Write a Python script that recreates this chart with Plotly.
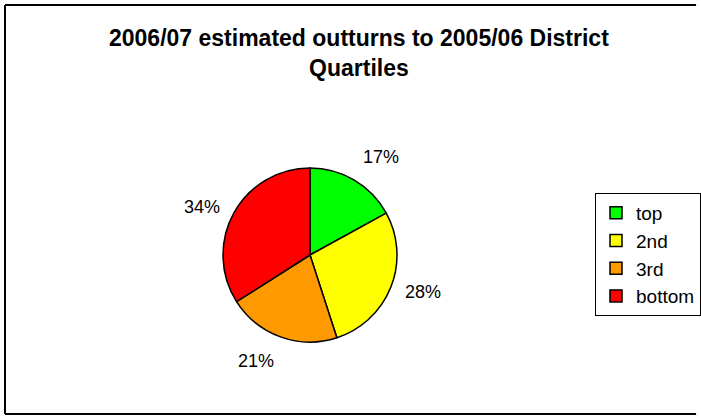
import math
import plotly.graph_objects as go

labels = ["top", "2nd", "3rd", "bottom"]
values = [17, 28, 21, 34]
colors = ["#00FF00", "#FFFF00", "#FF9900", "#FF0000"]
title_text = "2006/07 estimated outturns to 2005/06 District<br>Quartiles"

W, H = 701, 416
CX, CY, R = 310, 255, 87  # pie centre / radius in px
FONT = "Liberation Sans, Arial, sans-serif"

fig = go.Figure(go.Pie(
    labels=labels, values=values, sort=False, direction="clockwise", rotation=0,
    marker=dict(colors=colors, line=dict(color="black", width=1.5)),
    textinfo="none", hoverinfo="label+percent",
    domain=dict(x=[(CX - R) / W, (CX + R) / W], y=[1 - (CY + R) / H, 1 - (CY - R) / H]),
))

# outside percentage labels, placed along each slice's mid angle
total = sum(values)
cum = 0
anns = []
for v in values:
    mid = (cum + v / 2) / total * 2 * math.pi
    cum += v
    sx, sy = math.sin(mid), -math.cos(mid)
    rr = R + 13
    px, py = CX + sx * rr, CY + sy * rr
    xa = "left" if sx > 0.3 else ("right" if sx < -0.3 else "center")
    ya = "top" if sy > 0.5 else ("bottom" if sy < -0.5 else "middle")
    anns.append(dict(x=px / W, y=1 - py / H, xref="paper", yref="paper",
                     text=f"{round(v / total * 100)}%", showarrow=False,
                     xanchor=xa, yanchor=ya, font=dict(size=18, color="black", family=FONT)))

anns.append(dict(x=359 / W, y=1 - 23 / H, xref="paper", yref="paper", text=title_text,
                 showarrow=False, xanchor="center", yanchor="top",
                 font=dict(size=23, family=FONT, color="black", weight="bold")))

# chart frame: left, top and bottom edges (right edge falls outside the picture)
fx0, fx1, fy0, fy1 = 5 / W, 0.993, 1 - 5 / H, 1 - 414 / H
frame = [
    dict(type="line", xref="paper", yref="paper", x0=fx0, x1=fx0, y0=fy1, y1=fy0),
    dict(type="line", xref="paper", yref="paper", x0=fx0, x1=fx1, y0=fy0, y1=fy0),
    dict(type="line", xref="paper", yref="paper", x0=fx0, x1=fx1, y0=fy1, y1=fy1),
]
for s in frame:
    s["line"] = dict(color="black", width=2)

fig.update_layout(
    width=W, height=H, margin=dict(l=0, r=0, t=0, b=0, autoexpand=False),
    paper_bgcolor="white", plot_bgcolor="white",
    font=dict(family=FONT, color="black"),
    legend=dict(x=1.0, y=1 - 193 / H, xanchor="right", yanchor="top",
                bordercolor="black", borderwidth=1, bgcolor="white",
                font=dict(size=19, family=FONT, color="black")),
    annotations=anns,
    shapes=frame,
)

fig.write_html("out.html")
